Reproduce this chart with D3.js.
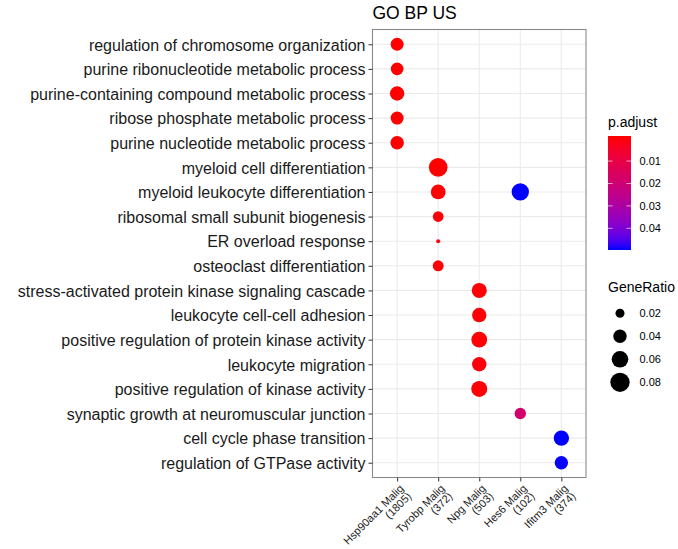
<!DOCTYPE html>
<html>
<head>
<meta charset="utf-8">
<script src="https://cdn.jsdelivr.net/npm/d3@7"></script>
<style>
  html, body { margin: 0; padding: 0; background: #fff; }
  svg { display: block; font-family: "Liberation Sans", Arial, Helvetica, sans-serif; }
</style>
</head>
<body>
<svg id="chart" width="678" height="549"></svg>
<script>
// ---------------- data ----------------
const clusters = ["Hsp90aa1 Malig|(1805)", "Tyrobp Malig|(372)", "Npg Malig|(503)", "Hes6 Malig|(102)", "Ifitm3 Malig|(374)"];
const terms = [
  "regulation of chromosome organization",
  "purine ribonucleotide metabolic process",
  "purine-containing compound metabolic process",
  "ribose phosphate metabolic process",
  "purine nucleotide metabolic process",
  "myeloid cell differentiation",
  "myeloid leukocyte differentiation",
  "ribosomal small subunit biogenesis",
  "ER overload response",
  "osteoclast differentiation",
  "stress-activated protein kinase signaling cascade",
  "leukocyte cell-cell adhesion",
  "positive regulation of protein kinase activity",
  "leukocyte migration",
  "positive regulation of kinase activity",
  "synaptic growth at neuromuscular junction",
  "cell cycle phase transition",
  "regulation of GTPase activity"
];
// one entry per dot
const dotTerm    = [0, 1, 2, 3, 4, 5, 6, 6, 7, 8, 9, 10, 11, 12, 13, 14, 15, 16, 17];
const dotCluster = [0, 0, 0, 0, 0, 1, 1, 3, 1, 1, 1, 2, 2, 2, 2, 2, 3, 4, 4];
const geneRatio  = [0.038, 0.036, 0.046, 0.038, 0.041, 0.075, 0.048, 0.065, 0.027, 0.0066, 0.028,
                    0.050, 0.046, 0.054, 0.046, 0.056, 0.030, 0.052, 0.040];
const pAdjust    = [0.0002, 0.0002, 0.0001, 0.0002, 0.0002, 0.0001, 0.0003, 0.0484, 0.0004, 0.0005, 0.0004,
                    0.0006, 0.0007, 0.0005, 0.0008, 0.0006, 0.0185, 0.0484, 0.0483];
const colorTicks = [0.01, 0.02, 0.03, 0.04];
const sizeTicks  = [0.02, 0.04, 0.06, 0.08];
const title = "GO BP US";

// ---------------- layout ----------------
const svg = d3.select("#chart");
const panel = { left: 372.5, right: 586, top: 29.5, bottom: 477.5 };
const font = "\"Liberation Sans\", Arial, Helvetica, sans-serif";

const x = d3.scalePoint().domain(clusters).range([panel.left, panel.right]).padding(0.6);
const y = d3.scalePoint().domain(terms).range([panel.top, panel.bottom]).padding(0.6);
const r = d3.scaleRadial().domain([0.0033, 0.08]).range([0, 9.65]);
const pExt = [0.0001, 0.0484];
const color = d3.scaleLinear().domain(pExt).range(["#ff0000", "#0000ff"]).interpolate(d3.interpolateLab);

// panel background + grid
svg.append("rect").attr("x", panel.left).attr("y", panel.top)
  .attr("width", panel.right - panel.left).attr("height", panel.bottom - panel.top)
  .attr("fill", "#fff");
const grid = svg.append("g").attr("stroke", "#ebebeb").attr("stroke-width", 1.1);
clusters.forEach(c => grid.append("line").attr("x1", x(c)).attr("x2", x(c))
  .attr("y1", panel.top).attr("y2", panel.bottom));
terms.forEach(t => grid.append("line").attr("y1", y(t)).attr("y2", y(t))
  .attr("x1", panel.left).attr("x2", panel.right));

// dots
const dots = dotTerm.map((t, i) => ({ term: terms[t], cluster: clusters[dotCluster[i]], ratio: geneRatio[i], p: pAdjust[i] }));
svg.append("g").selectAll("circle").data(dots).join("circle")
  .attr("cx", d => x(d.cluster)).attr("cy", d => y(d.term))
  .attr("r", d => r(d.ratio)).attr("fill", d => color(d.p));

// border
svg.append("rect").attr("x", panel.left).attr("y", panel.top)
  .attr("width", panel.right - panel.left).attr("height", panel.bottom - panel.top)
  .attr("fill", "none").attr("stroke", "#8a8a8a").attr("stroke-width", 1.1);

// y axis
const yAxis = svg.append("g").attr("transform", `translate(${panel.left},0)`)
  .call(d3.axisLeft(y).tickSize(4).tickPadding(3));
yAxis.select(".domain").remove();
yAxis.selectAll(".tick line").attr("stroke", "#333").attr("stroke-width", 1);
yAxis.selectAll(".tick text").attr("font-size", "16px").attr("fill", "#1a1a1a")
  .attr("font-family", font).attr("dy", "0.36em");

// x axis
const xAxis = svg.append("g").attr("transform", `translate(0,${panel.bottom})`)
  .call(d3.axisBottom(x).tickSize(4).tickFormat(""));
xAxis.select(".domain").remove();
xAxis.selectAll(".tick line").attr("stroke", "#333").attr("stroke-width", 1);
xAxis.selectAll(".tick").each(function (c) {
  const parts = c.split("|");
  const g = d3.select(this).append("g").attr("transform", "translate(1,6) rotate(-45)");
  const txt = g.append("text").attr("text-anchor", "end").attr("font-size", "11px")
    .attr("fill", "#1a1a1a").attr("font-family", font);
  parts.forEach((p, i) => txt.append("tspan").attr("x", 0).attr("y", 8 + i * 11).text(p));
});

// title
svg.append("text").attr("x", panel.left).attr("y", 18.5).attr("font-size", "17.5px")
  .attr("fill", "#000").attr("font-family", font).text(title);

// ---------------- legends ----------------
const lg = { x: 608, barTop: 136, barBottom: 250, barW: 23 };
svg.append("text").attr("x", lg.x).attr("y", 126.5).attr("font-size", "14px")
  .attr("font-family", font).attr("fill", "#000").text("p.adjust");
const inset = (lg.barBottom - lg.barTop) * 0.025;
const ly = d3.scaleLinear().domain(pExt).range([lg.barTop + inset, lg.barBottom - inset]);
const defs = svg.append("defs");
const grad = defs.append("linearGradient").attr("id", "pgrad")
  .attr("x1", 0).attr("x2", 0).attr("y1", 0).attr("y2", 1);
d3.range(0, 1.0001, 0.05).forEach(t => {
  const yy = lg.barTop + t * (lg.barBottom - lg.barTop);
  const v = Math.max(pExt[0], Math.min(pExt[1], ly.invert(yy)));
  grad.append("stop").attr("offset", t).attr("stop-color", color(v));
});
svg.append("rect").attr("x", lg.x).attr("y", lg.barTop).attr("width", lg.barW)
  .attr("height", lg.barBottom - lg.barTop).attr("fill", "url(#pgrad)");
colorTicks.forEach(v => {
  const yy = ly(v);
  svg.append("line").attr("x1", lg.x).attr("x2", lg.x + 4.6).attr("y1", yy).attr("y2", yy)
    .attr("stroke", "#fff").attr("stroke-width", 0.8).attr("opacity", 0.8);
  svg.append("line").attr("x1", lg.x + lg.barW - 4.6).attr("x2", lg.x + lg.barW).attr("y1", yy).attr("y2", yy)
    .attr("stroke", "#fff").attr("stroke-width", 0.8).attr("opacity", 0.8);
  svg.append("text").attr("x", 639.5).attr("y", yy).attr("dy", "0.36em").attr("font-size", "11px")
    .attr("font-family", font).attr("fill", "#000").text(v.toFixed(2));
});

svg.append("text").attr("x", lg.x).attr("y", 291.5).attr("font-size", "14px")
  .attr("font-family", font).attr("fill", "#000").text("GeneRatio");
const sy = d3.scalePoint().domain(sizeTicks).range([313.3, 382.3]);
sizeTicks.forEach(v => {
  svg.append("circle").attr("cx", 620).attr("cy", sy(v)).attr("r", r(v)).attr("fill", "#000");
  svg.append("text").attr("x", 639.5).attr("y", sy(v)).attr("dy", "0.36em").attr("font-size", "11px")
    .attr("font-family", font).attr("fill", "#000").text(v.toFixed(2));
});
</script>
</body>
</html>
